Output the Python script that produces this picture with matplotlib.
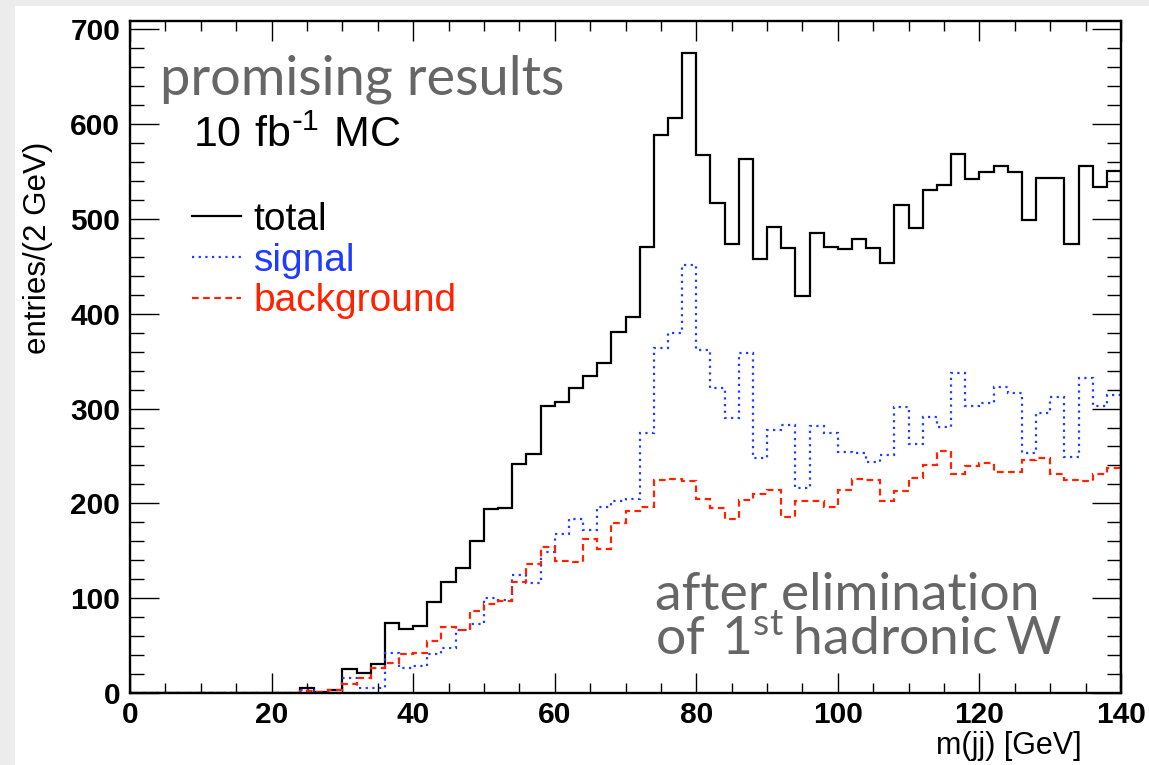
import numpy as np
import matplotlib
matplotlib.use("Agg")
import matplotlib.pyplot as plt
from matplotlib.lines import Line2D
from matplotlib.patches import Rectangle
from matplotlib.ticker import MultipleLocator

# 70 bins of 2 GeV from 0 to 140 GeV
bin_edges = np.arange(0, 142, 2)

# entries per bin; the first 12 bins (0-24 GeV) are empty
total = [0] * 12 + [
    5, 1, 3, 25, 21, 31, 74, 67, 71, 96,
    117, 132, 160, 194, 195, 241, 252, 303, 307, 322,
    334, 348, 381, 397, 470, 589, 606, 675, 567, 517,
    474, 563, 458, 491, 469, 419, 485, 470, 468, 479,
    469, 453, 515, 490, 531, 536, 568, 542, 549, 556,
    549, 499, 543, 543, 474, 556, 534, 551]
signal = [0] * 12 + [
    3, 0, 0, 16, 5, 5, 42, 26, 29, 41,
    47, 66, 73, 100, 98, 124, 116, 149, 168, 184,
    172, 196, 202, 205, 274, 364, 380, 451, 362, 322,
    290, 359, 248, 277, 283, 216, 282, 274, 254, 253,
    244, 251, 302, 263, 291, 281, 337, 303, 306, 323,
    316, 253, 295, 312, 249, 332, 303, 314]
background = [0] * 12 + [
    2, 1, 3, 9, 16, 26, 32, 41, 42, 55,
    70, 66, 87, 94, 97, 117, 136, 154, 139, 138,
    162, 152, 179, 192, 196, 225, 226, 224, 205, 195,
    184, 204, 210, 214, 186, 203, 203, 196, 214, 226,
    225, 202, 213, 227, 240, 255, 231, 239, 243, 233,
    233, 246, 248, 231, 225, 224, 231, 237]

legend_labels = ["total", "signal", "background"]
x_label = "m(jj) [GeV]"
y_label = "entries/(2 GeV)"

BLACK = "#000000"
BLUE = "#1f3bff"
RED = "#ff2200"
GREY = "#666666"

W, H = 1149, 765
fig = plt.figure(figsize=(W / 100, H / 100), dpi=100, facecolor="#ececec")
fig.patches.append(Rectangle((15 / W, 0), 1 - 15 / W, 1 - 6 / H,
                             transform=fig.transFigure, facecolor="white",
                             edgecolor="none", zorder=-10))

ax = fig.add_axes([130 / W, 1 - 693 / H, 991 / W, 672 / H])
ax.set_facecolor("white")

lw = 1.6
ax.stairs(total, bin_edges, color=BLACK, lw=lw, zorder=3)
ax.stairs(signal, bin_edges, color=BLUE, lw=lw, linestyle=(0, (1, 2)), zorder=4)
ax.stairs(background, bin_edges, color=RED, lw=lw, linestyle=(0, (3, 2)), zorder=5)

ax.set_xlim(0, 140)
ax.set_ylim(0, max(total) * 1.05)

for s in ax.spines.values():
    s.set_linewidth(1.7)
    s.set_zorder(6)

ax.xaxis.set_major_locator(MultipleLocator(20))
ax.xaxis.set_minor_locator(MultipleLocator(5))
ax.yaxis.set_major_locator(MultipleLocator(100))
ax.yaxis.set_minor_locator(MultipleLocator(20))

ax.tick_params(axis="both", which="both", direction="in", top=True, right=True, width=1.0)
ax.tick_params(axis="x", which="major", length=14.4, pad=6)
ax.tick_params(axis="x", which="minor", length=7.2)
ax.tick_params(axis="y", which="major", length=20.9, pad=7)
ax.tick_params(axis="y", which="minor", length=10)

for lab in ax.get_xticklabels() + ax.get_yticklabels():
    lab.set_fontfamily("Liberation Sans")
    lab.set_fontweight("bold")
    lab.set_fontsize(21.5)

fig.text(1082 / W, 1 - 754 / H, x_label, ha="right", va="baseline",
         family="Liberation Sans", fontsize=22)
fig.text(38 / W, 1 - 248 / H, y_label, ha="center", va="center", rotation=90,
         family="Liberation Sans", fontsize=22.5)

# legend
handles = [
    Line2D([], [], color=BLACK, lw=lw),
    Line2D([], [], color=BLUE, lw=lw, linestyle=(0, (1, 2))),
    Line2D([], [], color=RED, lw=lw, linestyle=(0, (3, 2))),
]
leg = ax.legend(handles, legend_labels, loc="upper left",
                bbox_to_anchor=(192 / W, 1 - 202 / H), bbox_transform=fig.transFigure,
                frameon=False, borderpad=0, borderaxespad=0,
                handlelength=1.25, handletextpad=0.33, labelspacing=0.12,
                prop=dict(family="Liberation Sans", size=28))
for txt, col in zip(leg.get_texts(), [BLACK, BLUE, RED]):
    txt.set_color(col)

# annotations
fig.text(160 / W, 1 - 95 / H, "promising results", ha="left", va="baseline",
         family="Lato", fontsize=39, color=GREY)
fig.text(193 / W, 1 - 147 / H, r"$\mathregular{10\ fb^{\text{-}1}\ MC}$", ha="left",
         va="baseline", family="Liberation Sans", fontsize=31, color=BLACK)
fig.text(655 / W, 1 - 610 / H, "after elimination", ha="left", va="baseline",
         family="Lato", fontsize=38.5, color=GREY)
fig.text(655 / W, 1 - 655 / H, r"$\mathregular{of\ 1^{st}\,hadronic\,W}$", ha="left",
         va="baseline", family="Lato", fontsize=38.5, color=GREY)

fig.savefig("out.png", dpi=100, facecolor=fig.get_facecolor())
